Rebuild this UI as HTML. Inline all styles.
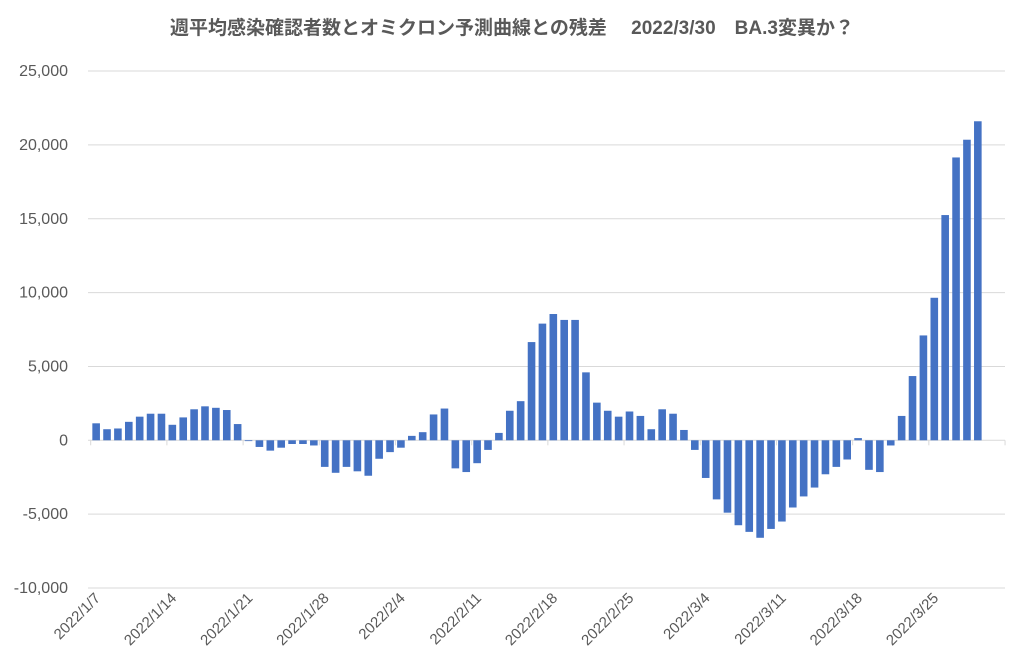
<!DOCTYPE html>
<html><head><meta charset="utf-8"><style>
html,body{margin:0;padding:0;background:#fff;}
svg{display:block;font-family:"Liberation Sans","Noto Sans CJK JP",sans-serif;}
</style></head><body>
<svg id="c" width="1023" height="668" xmlns="http://www.w3.org/2000/svg">
<text x="512" y="34" text-anchor="middle" font-size="19" font-weight="bold" fill="#595959">週平均感染確認者数とオミクロン予測曲線との残差　 2022/3/30　BA.3変異か？</text>
<g id="grid"></g>
<g id="bars"></g>
<g id="lab"></g>
</svg>
<script>
const ns="http://www.w3.org/2000/svg";
const v=[1150,750,800,1250,1600,1800,1800,1050,1550,2100,2300,2200,2050,1100,-50,-450,-700,-500,-250,-250,-350,-1800,-2200,-1800,-2100,-2400,-1250,-800,-500,300,550,1750,2150,-1900,-2150,-1550,-650,500,2000,2650,6650,7900,8550,8150,8150,4600,2550,2000,1600,1950,1650,750,2100,1800,700,-650,-2550,-4000,-4900,-5750,-6200,-6600,-6000,-5500,-4550,-3800,-3200,-2300,-1800,-1300,150,-2000,-2150,-350,1650,4350,7100,9650,15250,19150,20350,21600];
const y0=440.3,s=0.01477,x0=90.7,p=10.885;
function el(t,a,par,txt){const e=document.createElementNS(ns,t);for(const k in a)e.setAttribute(k,a[k]);if(txt)e.textContent=txt;document.getElementById(par).appendChild(e);}
for(let g=-10000;g<=25000;g+=5000){const y=y0-g*s;
 el("line",{x1:88,x2:1005,y1:y,y2:y,stroke:"#d9d9d9","stroke-width":1},"grid");
 el("text",{x:68,y:y+5,"text-anchor":"end","font-size":"16",fill:"#595959"},"lab",g.toLocaleString("en-US"));}
for(let i=0;i<=12;i++){const x=x0+i*7*p;el("line",{x1:x,x2:x,y1:y0,y2:y0+5,stroke:"#d9d9d9"},"grid");}
v.forEach((d,i)=>{const cx=x0+(i+0.5)*p,h=Math.abs(d)*s;
 el("rect",{x:cx-3.8,y:d>=0?y0-h:y0,width:7.6,height:Math.max(h,0.8),fill:"#4472c4"},"bars");});
const L=["2022/1/7","2022/1/14","2022/1/21","2022/1/28","2022/2/4","2022/2/11","2022/2/18","2022/2/25","2022/3/4","2022/3/11","2022/3/18","2022/3/25"];
L.forEach((t,k)=>{const cx=x0+(k*7+0.5)*p+5;
 el("text",{x:cx,y:599,"text-anchor":"end","font-size":"15",fill:"#595959",transform:`rotate(-45 ${cx} 599)`},"lab",t);});
</script>
</body></html>
